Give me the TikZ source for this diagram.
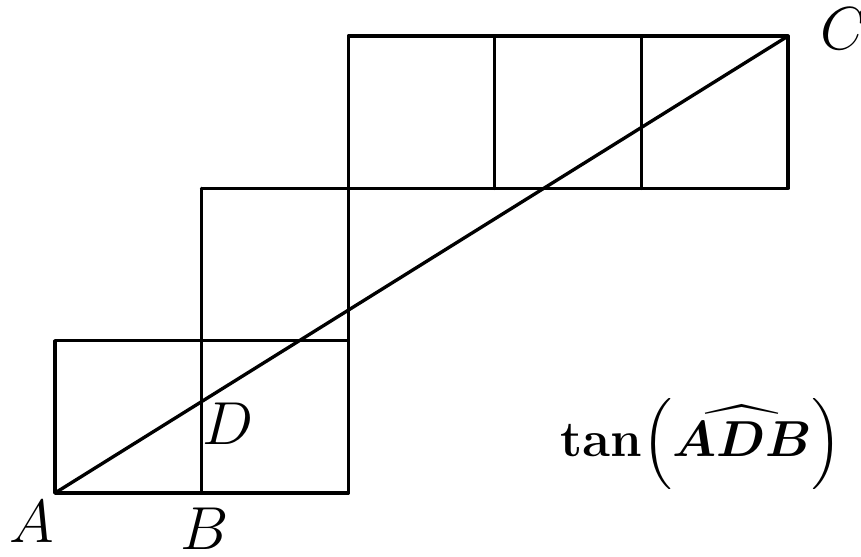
\documentclass[tikz,border=0pt]{standalone}
\usepackage{tikz}
\usepackage{tkz-euclide}
\usepackage{amsmath}
\usepackage{bm}

\begin{document}
\begin{tikzpicture}[x=1.466cm, y=1.523cm]
    \tikzset{lbl/.style={anchor=center, inner sep=1pt, font=\fontsize{17}{20}\selectfont}}
    \useasboundingbox (-0.375,-0.420) rectangle (5.498,3.237);
    \tkzDefPoint(0,0){A}
    \tkzDefPoint(1,0){B}
    \tkzDefPoint(2,0){E}
    \tkzDefPoint(0,1){F}
    \tkzDefPoint(2,1){H}
    \tkzDefPoint(1,2){I}
    \tkzDefPoint(2,2){J}
    \tkzDefPoint(3,2){K}
    \tkzDefPoint(4,2){L}
    \tkzDefPoint(5,2){M}
    \tkzDefPoint(2,3){N}
    \tkzDefPoint(3,3){O}
    \tkzDefPoint(4,3){P}
    \tkzDefPoint(5,3){C}
    \tkzDefPoint(1,0.6){D}
    \tkzDrawPolygon[line width=0.95pt](A,E,H,F)
    \tkzDrawPolygon[line width=0.95pt](J,M,C,N)
    \tkzDrawSegments[line width=0.95pt](B,I I,J E,N K,O L,P)
    \tkzDrawSegment[line width=0.95pt](A,C)
    \tkzLabelPoint[lbl, xshift=-0.23cm, yshift=-0.29cm](A){$A$}
    \tkzLabelPoint[lbl, xshift=0.03cm, yshift=-0.36cm](B){$B$}
    \tkzLabelPoint[lbl, xshift=0.26cm, yshift=-0.22cm](D){$D$}
    \tkzLabelPoint[lbl, xshift=0.56cm, yshift=0.07cm](C){$C$}
    \node[font=\fontsize{15.5}{18}\selectfont] (tanADB) at (4.41,0.32)
        {$\mathbf{tan}\!\left(\bm{\widehat{ADB}}\right)$};
\end{tikzpicture}
\end{document}
